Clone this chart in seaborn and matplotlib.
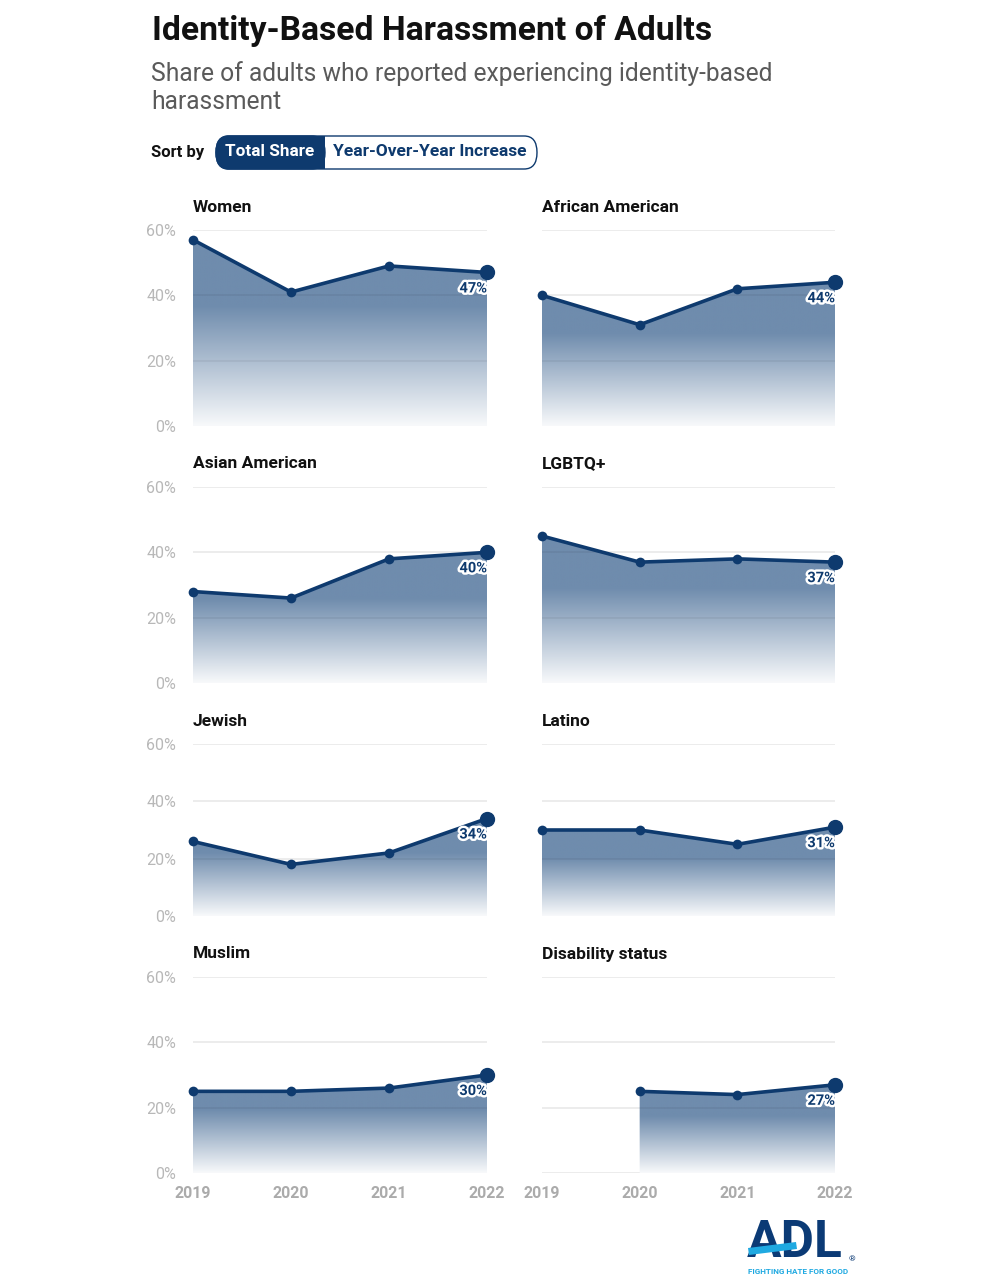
import numpy as np
import matplotlib
matplotlib.use("Agg")
import matplotlib.pyplot as plt
import matplotlib.patheffects as pe
from matplotlib.patches import FancyBboxPatch, Rectangle, Polygon
import seaborn as sns
import pandas as pd

W, H = 1000, 1284

YEARS = [2019, 2020, 2021, 2022]
GROUPS = ['Women', 'African American', 'Asian American', 'LGBTQ+',
          'Jewish', 'Latino', 'Muslim', 'Disability status']
WOMEN = [57, 41, 49, 47]
AFRICAN_AMERICAN = [40, 31, 42, 44]
ASIAN_AMERICAN = [28, 26, 38, 40]
LGBTQ = [45, 37, 38, 37]
JEWISH = [26, 18, 22, 34]
LATINO = [30, 30, 25, 31]
MUSLIM = [25, 25, 26, 30]
DISABILITY = [None, 25, 24, 27]  # no 2019 value
SERIES = [WOMEN, AFRICAN_AMERICAN, ASIAN_AMERICAN, LGBTQ,
          JEWISH, LATINO, MUSLIM, DISABILITY]
Y_TICKS = [0, 20, 40, 60]

NAVY = '#0e3a6e'
FILL_TOP = np.array([111, 140, 173]) / 255.0

sns.set_theme(style='white')
plt.rcParams['font.family'] = ['Roboto', 'DejaVu Sans']


def fx(x):
    return x / W


def fy(y):
    return 1 - y / H


def add_ax(x0, x1, y0, y1):
    return fig.add_axes([fx(x0), fy(y1), fx(x1) - fx(x0), (y1 - y0) / H])


fig = plt.figure(figsize=(W / 100, H / 100), dpi=100)

# header
fig.text(fx(152), fy(31), 'Identity-Based Harassment of Adults', fontsize=24.2,
         fontweight='bold', color='#111111', va='center', ha='left')
fig.text(fx(151), fy(74), 'Share of adults who reported experiencing identity-based',
         fontsize=17.7, color='#5a5a5a', va='center', ha='left')
fig.text(fx(151), fy(102), 'harassment', fontsize=17.7, color='#5a5a5a',
         va='center', ha='left')

# sort-by toggle
fig.text(fx(151), fy(152), 'Sort by', fontsize=12, fontweight='bold',
         color='#111111', va='center', ha='left')
pill_h = 33 / H
outer = FancyBboxPatch((fx(216), fy(169)), fx(537) - fx(216), pill_h,
                       boxstyle='round,pad=0,rounding_size=0.0128',
                       transform=fig.transFigure, facecolor='white',
                       edgecolor=NAVY, linewidth=1.0)
fig.patches.append(outer)
inner = FancyBboxPatch((fx(216), fy(169)), fx(325) - fx(216), pill_h,
                       boxstyle='round,pad=0,rounding_size=0.0128',
                       transform=fig.transFigure, facecolor=NAVY,
                       edgecolor=NAVY, linewidth=1.0)
fig.patches.append(inner)
fig.patches.append(Rectangle((fx(300), fy(169)), fx(325) - fx(300), pill_h,
                             transform=fig.transFigure, facecolor=NAVY,
                             edgecolor='none'))
fig.text(fx(270), fy(152), 'Total Share', fontsize=12.3, fontweight='bold',
         color='white', va='center', ha='center')
fig.text(fx(430), fy(152), 'Year-Over-Year Increase', fontsize=12.5,
         fontweight='bold', color=NAVY, va='center', ha='center')

# panel grid (pixel positions of plot areas)
COLS = [(193, 487), (542, 835)]
ROWS = [(230, 426), (487, 683), (744, 916), (977, 1173)]

for i, (name, vals) in enumerate(zip(GROUPS, SERIES)):
    r, c = divmod(i, 2)
    x0, x1 = COLS[c]
    y0, y1 = ROWS[r]
    ax = add_ax(x0, x1, y0, y1)
    df = pd.DataFrame({'year': YEARS, 'value': vals}).dropna()

    ax.set_xlim(2019, 2022)
    ax.set_ylim(0, 60)
    for t in Y_TICKS:
        ax.axhline(t, color='#e9e9e9', lw=1.2, zorder=0)

    # gradient area under the line
    xs = df['year'].to_numpy(dtype=float)
    ys = df['value'].to_numpy(dtype=float)
    poly = Polygon(np.column_stack([np.r_[xs, xs[::-1]], np.r_[ys, np.zeros_like(ys)]]),
                   closed=True, facecolor='none', edgecolor='none')
    ax.add_patch(poly)
    ymax = ys.max()
    yy = np.linspace(60, 0, 400)
    frac = np.clip(0.05 + (yy / ymax) / 0.68, 0, 1)[:, None]
    rgb = (1 - frac) * 1.0 + frac * FILL_TOP[None, :]
    grad = np.repeat(rgb[:, None, :], 2, axis=1)
    im = ax.imshow(grad, extent=[2019, 2022, 0, 60], aspect='auto',
                   interpolation='bilinear', zorder=1)
    im.set_clip_path(poly)
    # gridlines show faintly through the fill
    for t in Y_TICKS[1:]:
        gl = ax.axhline(t, color='black', alpha=0.06, lw=1.2, zorder=2)
        gl.set_clip_path(poly)

    sns.lineplot(data=df, x='year', y='value', ax=ax, color=NAVY, lw=2.6,
                 marker='o', markersize=7, markeredgewidth=0, zorder=3,
                 clip_on=False)
    last = df.iloc[-1]
    ax.plot([last['year']], [last['value']], 'o', color=NAVY, ms=10,
            zorder=4, clip_on=False)
    ax.annotate(f"{int(last['value'])}%", (last['year'], last['value']),
                xytext=(0, -16), textcoords='offset pixels', ha='right',
                va='center', fontsize=10.5, fontweight='bold', color=NAVY,
                zorder=5,
                path_effects=[pe.withStroke(linewidth=3.5, foreground='white')])

    ax.set_xlabel('')
    ax.set_ylabel('')
    for s in ax.spines.values():
        s.set_visible(False)
    ax.set_yticks(Y_TICKS)
    if c == 0:
        ax.set_yticklabels([f'{t}%' for t in Y_TICKS], fontsize=11.5,
                           color='#b8b8b8')
    else:
        ax.set_yticklabels([])
    ax.tick_params(axis='y', length=0, pad=12)
    ax.set_xticks(YEARS)
    if r == 3:
        ax.set_xticklabels([str(y) for y in YEARS], fontsize=11.5,
                           fontweight='bold', color='#ababab')
    else:
        ax.set_xticklabels([])
    ax.tick_params(axis='x', length=0, pad=9)

    fig.text(fx(x0), fy(y0 - 23), name, fontsize=12.5, fontweight='bold',
             color='#111111', va='center', ha='left')

# ADL logo
fig.text(fx(795), fy(1243), 'ADL', fontsize=37, fontweight='bold',
         color='#0b3a75', va='center', ha='center')
fig.patches.append(Polygon([[fx(748), fy(1248)], [fx(796), fy(1242)],
                            [fx(797), fy(1249)], [fx(749), fy(1255)]],
                           closed=True, transform=fig.transFigure,
                           facecolor='#1fa9e1', edgecolor='none', zorder=5))
fig.text(fx(852), fy(1259), '®', fontsize=6, color='#0b3a75',
         va='center', ha='center')
fig.text(fx(798), fy(1272), 'FIGHTING HATE FOR GOOD', fontsize=5.9,
         fontweight='bold', color='#1fa9e1', va='center', ha='center')

fig.savefig('out.png', dpi=100, facecolor='white')
